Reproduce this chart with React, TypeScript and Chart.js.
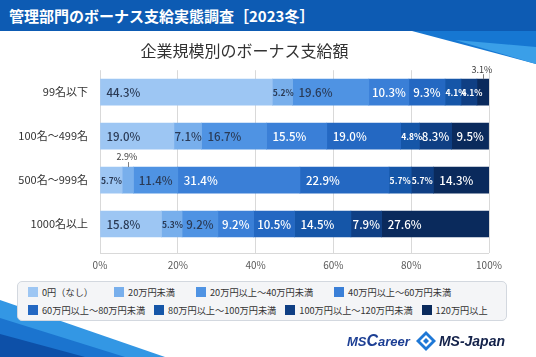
import React, { useEffect, useRef } from "react";
import { Chart, registerables } from "chart.js";

Chart.register(...registerables);

const bannerTitle = "管理部門のボーナス支給実態調査［2023冬］";
const chartTitle = "企業規模別のボーナス支給額";

const categories = ["99名以下", "100名〜499名", "500名〜999名", "1000名以上"];

const seriesNames = [
  "0円（なし）",
  "20万円未満",
  "20万円以上〜40万円未満",
  "40万円以上〜60万円未満",
  "60万円以上〜80万円未満",
  "80万円以上〜100万円未満",
  "100万円以上〜120万円未満",
  "120万円以上",
];

// values per company size (%), in series order
const size99 = [44.3, 5.2, 19.6, 10.3, 9.3, 4.1, 4.1, 3.1];
const size100to499 = [19.0, 7.1, 16.7, 15.5, 19.0, 4.8, 8.3, 9.5];
const size500to999 = [5.7, 2.9, 11.4, 31.4, 22.9, 5.7, 5.7, 14.3];
const size1000 = [15.8, 5.3, 9.2, 9.2, 10.5, 14.5, 7.9, 27.6];
const rows = [size99, size100to499, size500to999, size1000];

const xTicks = [0, 20, 40, 60, 80, 100];

const seriesColors = [
  "#9dc6f3",
  "#78afec",
  "#4f93e3",
  "#3a7fd7",
  "#2468c2",
  "#1556a8",
  "#0f3f84",
  "#0a2a5c",
];
const darkTextSeries = 3; // series index below which labels are dark
const FONT = '"Noto Sans CJK JP", "Noto Sans", sans-serif';

const segLabelPlugin = {
  id: "segLabels",
  afterDatasetsDraw(chart: any) {
    const ctx = chart.ctx;
    ctx.save();
    chart.data.datasets.forEach((ds: any, i: number) => {
      const meta = chart.getDatasetMeta(i);
      meta.data.forEach((el: any, j: number) => {
        const v = ds.data[j] as number;
        const p = el.getProps(["x", "y", "base", "height"], true);
        const left = Math.min(p.x, p.base);
        const right = Math.max(p.x, p.base);
        const w = right - left;
        const top = p.y - p.height / 2;
        const text = v.toFixed(1) + "%";
        if (v < 3.5) {
          ctx.font = `9px ${FONT}`;
          ctx.fillStyle = "#404040";
          ctx.textAlign = "center";
          ctx.textBaseline = "middle";
          const cx = (left + right) / 2;
          ctx.fillText(text, cx - 1, top - 10);
          ctx.strokeStyle = "#7f7f7f";
          ctx.lineWidth = 1;
          ctx.beginPath();
          ctx.moveTo(Math.round(cx) + 0.5, top - 5);
          ctx.lineTo(Math.round(cx) + 0.5, top);
          ctx.stroke();
          return;
        }
        const small = v < 6;
        ctx.font = small ? `bold 8.5px ${FONT}` : `500 11.5px ${FONT}`;
        ctx.fillStyle = i < darkTextSeries ? "#2a3a55" : "#ffffff";
        ctx.textAlign = "left";
        ctx.textBaseline = "middle";
        const tw = ctx.measureText(text).width;
        const pad = Math.max(0.5, Math.min(6, (w - tw) / 2));
        ctx.fillText(text, left + pad, p.y + 0.5);
      });
    });
    ctx.restore();
  },
};

const bottomLinePlugin = {
  id: "bottomLine",
  beforeDatasetsDraw(chart: any) {
    const { ctx, chartArea } = chart;
    ctx.save();
    ctx.strokeStyle = "#d9d9d9";
    ctx.lineWidth = 1;
    ctx.beginPath();
    const y = Math.round(chartArea.bottom + 7) + 0.5;
    ctx.moveTo(chartArea.left, y);
    ctx.lineTo(chartArea.right, y);
    ctx.stroke();
    ctx.restore();
  },
};

function Legend() {
  const lines = [
    { items: [0, 1, 2, 3], gap: 21 },
    { items: [4, 5, 6, 7], gap: 9 },
  ];
  return (
    <div
      style={{
        position: "absolute",
        left: 17,
        top: 281,
        width: 488,
        height: 37,
        background: "#f4f5f7",
        border: "1px solid #d3d8df",
        borderRadius: 5,
        paddingTop: 1,
        zIndex: 3,
      }}
    >
      {lines.map((line, r) => (
        <div
          key={r}
          style={{
            display: "flex",
            alignItems: "center",
            height: 18,
            paddingLeft: 10,
            columnGap: line.gap,
          }}
        >
          {line.items.map((i) => (
            <div key={i} style={{ display: "flex", alignItems: "center", whiteSpace: "nowrap" }}>
              <span
                style={{
                  display: "inline-block",
                  width: 10,
                  height: 10,
                  background: seriesColors[i],
                  marginRight: 4,
                }}
              />
              <span style={{ fontFamily: FONT, fontSize: 9.2, color: "#333" }}>{seriesNames[i]}</span>
            </div>
          ))}
        </div>
      ))}
    </div>
  );
}

export default function App() {
  const canvasRef = useRef<HTMLCanvasElement | null>(null);

  useEffect(() => {
    const canvas = canvasRef.current;
    if (!canvas) return;
    const chart = new Chart(canvas, {
      type: "bar",
      data: {
        labels: categories,
        datasets: seriesNames.map((name, i) => ({
          label: name,
          data: rows.map((r) => r[i]),
          backgroundColor: seriesColors[i],
          borderWidth: 0,
          barThickness: 26,
        })),
      },
      options: {
        indexAxis: "y",
        animation: false,
        responsive: false,
        maintainAspectRatio: false,
        layout: { padding: { top: 31, left: 0, right: 47, bottom: 80 } },
        plugins: {
          legend: { display: false },
          tooltip: { enabled: false },
          title: {
            display: true,
            text: chartTitle,
            color: "#333333",
            font: { family: FONT, size: 16, weight: "normal" },
            padding: { top: 10, bottom: 10 },
          },
        },
        scales: {
          x: {
            stacked: true,
            min: 0,
            max: 100,
            afterBuildTicks: (s: any) => {
              s.ticks = xTicks.map((v) => ({ value: v }));
            },
            ticks: {
              callback: (v: any) => v + "%",
              color: "#595959",
              font: { family: FONT, size: 10 },
              padding: 6,
              maxRotation: 0,
            },
            grid: { color: "#d9d9d9", drawTicks: true, tickLength: 7 },
            border: { display: false },
          },
          y: {
            stacked: true,
            grid: { display: false, drawTicks: false },
            border: { display: false },
            ticks: {
              color: "#333333",
              font: { family: FONT, size: 11 },
              padding: 12,
            },
            afterFit: (s: any) => {
              s.width = 100;
            },
          },
        },
      },
      plugins: [bottomLinePlugin, segLabelPlugin],
    } as any);
    return () => chart.destroy();
  }, []);

  return (
    <div
      style={{
        position: "fixed",
        left: 0,
        top: 0,
        width: 536,
        height: 357,
        overflow: "hidden",
        background: "#ffffff",
        fontFamily: FONT,
      }}
    >
      <svg
        width={536}
        height={357}
        style={{ position: "absolute", left: 0, top: 0, zIndex: 0 }}
      >
        <polygon points="412,31 536,31 536,64" fill="#1677d2" />
        <polygon points="455,40 536,47 536,64" fill="#3a9fe8" />
        <polygon points="0,300 165,357 0,357" fill="#3397e4" />
        <polygon points="0,318 125,357 0,357" fill="#1b74cf" />
        <polygon points="0,334 85,357 0,357" fill="#0d50a8" />
      </svg>
      <div
        style={{
          position: "absolute",
          left: 0,
          top: 0,
          width: 536,
          height: 31,
          background: "#0d5bb3",
          color: "#ffffff",
          fontSize: 15,
          fontWeight: 600,
          lineHeight: "31px",
          paddingLeft: 9,
          boxSizing: "border-box",
          whiteSpace: "nowrap",
          zIndex: 1,
        }}
      >
        {bannerTitle}
      </div>
      <canvas
        ref={canvasRef}
        width={536}
        height={357}
        style={{ position: "absolute", left: 0, top: 0, width: 536, height: 357, zIndex: 2 }}
      />
      <Legend />
      <div
        style={{
          position: "absolute",
          left: 347,
          top: 331,
          height: 20,
          display: "flex",
          alignItems: "center",
          zIndex: 3,
          fontFamily: '"Liberation Sans", Arial, sans-serif',
          fontWeight: 700,
          fontStyle: "italic",
          whiteSpace: "nowrap",
        }}
      >
        <span style={{ color: "#1d3f94", fontSize: 13 }}>
          MS<span style={{ fontSize: 16 }}>C</span>areer
        </span>
        <svg width={20} height={20} style={{ marginLeft: 6, marginRight: 3 }}>
          <polygon points="10,0 20,10 10,20 0,10" fill="#1f78d6" />
          <polygon points="10,4 16,10 10,16 4,10" fill="#ffffff" />
          <polygon points="10,7 13,10 10,13 7,10" fill="#1f78d6" />
        </svg>
        <span style={{ color: "#14224a", fontSize: 14 }}>MS-Japan</span>
      </div>
    </div>
  );
}
